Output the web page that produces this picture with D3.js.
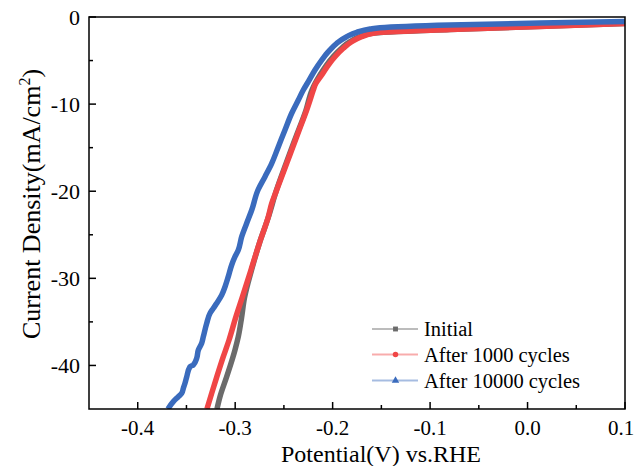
<!DOCTYPE html>
<html><head><meta charset="utf-8">
<script src="https://cdn.jsdelivr.net/npm/d3@7"></script>
<style>body{margin:0;background:#fff}svg{display:block}text{font-family:"Liberation Serif","Times New Roman",serif;fill:#000}</style>
</head><body>
<svg id="c" width="636" height="466"></svg>
<script>
const seriesNames = ["Initial", "After 1000 cycles", "After 10000 cycles"];
const seriesColors = ["#6b6b6b", "#f04646", "#3a6bbd"];
const xTicks = [-0.4, -0.3, -0.2, -0.1, 0.0, 0.1];
const yTicks = [0, -10, -20, -30, -40];

const initialV = [-0.3187,-0.3156,-0.3087,-0.3002,-0.2968,-0.2935,-0.2905,-0.2832,-0.2752,-0.2658,-0.2576,-0.2478,-0.2376,-0.2273,-0.2212,-0.213,-0.2063,-0.1996,-0.1909,-0.1822,-0.1719,-0.1596,-0.0796,0.1];
const initialJ = [-45,-43.59,-41.29,-38.23,-36.7,-34.55,-32.26,-29.04,-25.98,-22.93,-19.86,-16.8,-13.74,-10.68,-8.38,-6.66,-5.51,-4.56,-3.59,-2.84,-2.26,-1.87,-1.43,-0.75];

const cyc1000V = [-0.329,-0.3241,-0.3188,-0.3122,-0.3063,-0.2992,-0.2925,-0.2838,-0.2752,-0.266,-0.2625,-0.2574,-0.2523,-0.2471,-0.242,-0.2369,-0.2317,-0.2266,-0.2198,-0.2181,-0.2112,-0.2044,-0.1976,-0.189,-0.1804,-0.1702,-0.1583,-0.1514,-0.0796,0.0128,0.1];
const cyc1000J = [-45,-43.2,-41.29,-39.0,-37.08,-34.4,-32.11,-29.04,-25.98,-22.93,-21.39,-19.86,-18.33,-16.8,-15.27,-13.74,-12.2,-10.68,-8.38,-7.81,-6.66,-5.51,-4.56,-3.59,-2.84,-2.26,-1.87,-1.76,-1.43,-1.09,-0.75];

const cyc10000V = [-0.369,-0.3635,-0.3584,-0.3549,-0.3532,-0.3515,-0.3497,-0.3464,-0.343,-0.3395,-0.3378,-0.3344,-0.3327,-0.3292,-0.3258,-0.3224,-0.319,-0.3138,-0.3104,-0.3071,-0.3036,-0.3002,-0.2968,-0.2933,-0.2882,-0.283,-0.2766,-0.2694,-0.2625,-0.2557,-0.2489,-0.242,-0.2352,-0.2301,-0.225,-0.2181,-0.2112,-0.2044,-0.1958,-0.1856,-0.1753,-0.1616,-0.1514,-0.0796,0.0128,0.1];
const cyc10000J = [-45,-44.16,-43.59,-43.2,-42.62,-42.05,-41.29,-40.14,-39.95,-39.18,-38.23,-37.46,-36.7,-35.16,-34.01,-33.44,-32.87,-31.91,-30.96,-29.81,-28.47,-27.52,-26.75,-25.22,-23.68,-22.16,-19.86,-18.33,-16.8,-14.89,-12.97,-11.05,-9.53,-8.38,-7.43,-6.08,-4.94,-3.98,-3.02,-2.26,-1.76,-1.38,-1.23,-0.92,-0.69,-0.52];

const series = [
  {name: seriesNames[0], color: seriesColors[0], v: initialV, j: initialJ, marker: d3.symbolSquare},
  {name: seriesNames[1], color: seriesColors[1], v: cyc1000V, j: cyc1000J, marker: d3.symbolCircle},
  {name: seriesNames[2], color: seriesColors[2], v: cyc10000V, j: cyc10000J, marker: d3.symbolTriangle}
];

const L = 89, R = 625, T = 17, B = 409;
const x = d3.scaleLinear().domain([-0.45, 0.1]).range([L, R]);
const y = d3.scaleLinear().domain([-45, 0]).range([B, T]);
const svg = d3.select("#c");

svg.append("defs").append("clipPath").attr("id","clip")
  .append("rect").attr("x",L).attr("y",T).attr("width",R-L).attr("height",B-T);

const line = d3.line().x(d=>x(d[0])).y(d=>y(d[1])).curve(d3.curveMonotoneY);
const g = svg.append("g").attr("clip-path","url(#clip)");
series.forEach(s=>{
  const pts = s.v.map((v,i)=>[v, s.j[i]]);
  g.append("path").attr("d", line(pts)).attr("fill","none")
   .attr("stroke", s.color).attr("stroke-width", 5.5)
   .attr("stroke-linejoin","round").attr("stroke-linecap","butt");
});

// frame
svg.append("rect").attr("x",L).attr("y",T).attr("width",R-L).attr("height",B-T)
  .attr("fill","none").attr("stroke","#000").attr("stroke-width",1.5);

// x axis ticks (inward)
const xMinor = d3.range(-0.45, 0.1001, 0.05).map(v=>+v.toFixed(2)).filter(v=>!xTicks.some(t=>Math.abs(t-v)<1e-6) && v> -0.449);
const ax = svg.append("g");
xTicks.forEach(t=>{
  ax.append("line").attr("x1",x(t)).attr("x2",x(t)).attr("y1",B).attr("y2",B-7).attr("stroke","#000").attr("stroke-width",1.5);
  const tx = Math.min(x(t), 621);
  ax.append("text").attr("x",tx).attr("y",B+26).attr("text-anchor","middle").attr("font-size",21)
    .text(t.toFixed(1));
});
xMinor.forEach(t=>{
  ax.append("line").attr("x1",x(t)).attr("x2",x(t)).attr("y1",B).attr("y2",B-4).attr("stroke","#000").attr("stroke-width",1.5);
});
// y axis ticks
const yMinor = [-5,-15,-25,-35];
yTicks.forEach(t=>{
  ax.append("line").attr("x1",L).attr("x2",L+7).attr("y1",y(t)).attr("y2",y(t)).attr("stroke","#000").attr("stroke-width",1.5);
  ax.append("text").attr("x",L-9).attr("y",y(t)+7.5).attr("text-anchor","end").attr("font-size",22).text(d3.format("d")(t).replace("−","-"));
});
yMinor.forEach(t=>{
  ax.append("line").attr("x1",L).attr("x2",L+4).attr("y1",y(t)).attr("y2",y(t)).attr("stroke","#000").attr("stroke-width",1.5);
});

// axis titles
svg.append("text").attr("x",381).attr("y",462).attr("text-anchor","middle").attr("font-size",24)
  .text("Potential(V) vs.RHE");
const yt = svg.append("text").attr("transform","translate(40,204) rotate(-90)").attr("text-anchor","middle").attr("font-size",26);
yt.append("tspan").text("Current Density(mA/cm");
yt.append("tspan").attr("dy",-10).attr("font-size",16).text("2");
yt.append("tspan").attr("dy",10).text(")");

// legend
const legY = [329, 354.5, 380.5];
series.forEach((s,i)=>{
  const lg = svg.append("g");
  lg.append("line").attr("x1",372).attr("x2",418).attr("y1",legY[i]).attr("y2",legY[i])
    .attr("stroke",s.color).attr("stroke-opacity",0.45).attr("stroke-width",2);
  lg.append("path").attr("d", d3.symbol().type(s.marker).size(24)())
    .attr("transform",`translate(395.5,${legY[i]})`).attr("fill",s.color);
  lg.append("text").attr("x",424).attr("y",legY[i]+7).attr("font-size",20.5).text(s.name);
});
</script>
</body></html>
